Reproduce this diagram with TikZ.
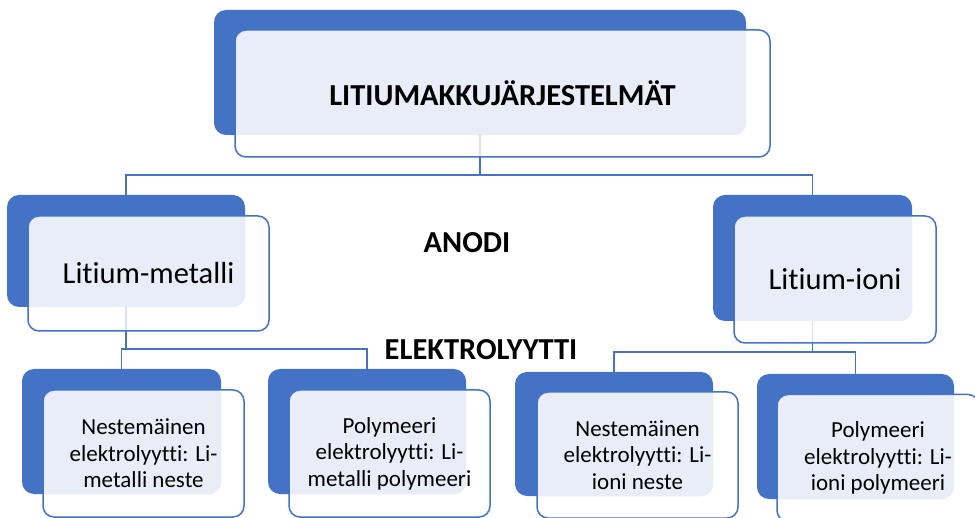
\documentclass[tikz,border=0pt]{standalone}
\usepackage{fontspec}
\setmainfont{Carlito}[Ligatures={NoCommon}]
\usetikzlibrary{backgrounds}
\definecolor{akkublue}{HTML}{4472C4}
\definecolor{akkupale}{HTML}{E9EDF7}
\tikzset{
   frontbox/.style={draw=akkublue,line width=1.5pt,fill=white,fill opacity=0.8,text opacity=1,
      rounded corners=11pt,inner sep=0pt,outer sep=0pt,align=center,
      path picture={\fill[akkupale,fill opacity=1,rounded corners=12pt] (#1.south west) rectangle (#1.north east);}}
}
\begin{document}
\begin{tikzpicture}[x=1pt,y=1pt]
   \tikzstyle{backbox}=[fill=akkublue,rounded corners=12pt,inner sep=0pt,outer sep=0pt]
   \tikzstyle{link}=[draw=akkublue,line width=1.5pt]
   \tikzstyle{bigtext}=[font=\fontsize{30.5}{36}\selectfont]
   \tikzstyle{leaftext}=[font=\fontsize{23}{26.5}\selectfont]
   \path[use as bounding box,clip] (0,0) rectangle (975,-518);

   % paataso
   \node (top) [backbox,minimum width=532,minimum height=125] at (480,-72.5) {};
   \node (topf) [frontbox=top,minimum width=535,minimum height=127,bigtext] at ([shift={(22.5,-21)}]top.center) {\bfseries LITIUMAKKUJÄRJESTELMÄT};

   % anodi
   \node (lime) [backbox,minimum width=238,minimum height=112] at (126,-251) {};
   \node (limef) [frontbox=lime,minimum width=241,minimum height=115,bigtext] at ([shift={(22.5,-22.5)}]lime.center) {Litium-metalli};
   \node (lion) [backbox,minimum width=199,minimum height=126] at (812.5,-258) {};
   \node (lionf) [frontbox=lion,minimum width=202,minimum height=127,bigtext] at ([shift={(22.5,-21.5)}]lion.center) {Litium-ioni};

   % elektrolyytti
   \node (mneste) [backbox,minimum width=199,minimum height=125] at (121.5,-431.5) {};
   \node (mnestef) [frontbox=mneste,minimum width=201,minimum height=127,leaftext] at ([shift={(22,-22)}]mneste.center) {Nestemäinen\\elektrolyytti: Li-\\metalli neste};
   \node (mpoly) [backbox,minimum width=198,minimum height=125] at (367,-431.5) {};
   \node (mpolyf) [frontbox=mpoly,minimum width=201,minimum height=127,leaftext] at ([shift={(22.5,-22)}]mpoly.center) {Polymeeri\\elektrolyytti: Li-\\metalli polymeeri};
   \node (ineste) [backbox,minimum width=198,minimum height=124] at (614,-434) {};
   \node (inestef) [frontbox=ineste,minimum width=201,minimum height=126,leaftext] at ([shift={(23.5,-21)}]ineste.center) {Nestemäinen\\elektrolyytti: Li-\\ioni neste};
   \node (ipoly) [backbox,minimum width=197,minimum height=125] at (855.5,-436.5) {};
   \node (ipolyf) [frontbox=ipoly,minimum width=202,minimum height=127,leaftext] at ([shift={(22.5,-21.5)}]ipoly.center) {Polymeeri\\elektrolyytti: Li-\\ioni polymeeri};

   \node (anodi) [bigtext] at (467,-243) {\bfseries ANODI};
   \node (elektro) [bigtext] at (481,-350) {\bfseries ELEKTROLYYTTI};

   \begin{scope}[on background layer]
      \draw [link] (top.south) -- ++(0,-40) coordinate (topbus);
      \draw [link] (topbus) -| (lime.north);
      \draw [link] (topbus) -| (lion.north);
      \draw [link] (lime.south) -- ++(0,-42) coordinate (limebus);
      \draw [link] (limebus) -| (mneste.north);
      \draw [link] (limebus) -| (mpoly.north);
      \draw [link] (lion.south) -- ++(0,-31) coordinate (lionbus);
      \draw [link] (lionbus) -| (ineste.north);
      \draw [link] (lionbus) -| (ipoly.north);
   \end{scope}
\end{tikzpicture}
\end{document}
